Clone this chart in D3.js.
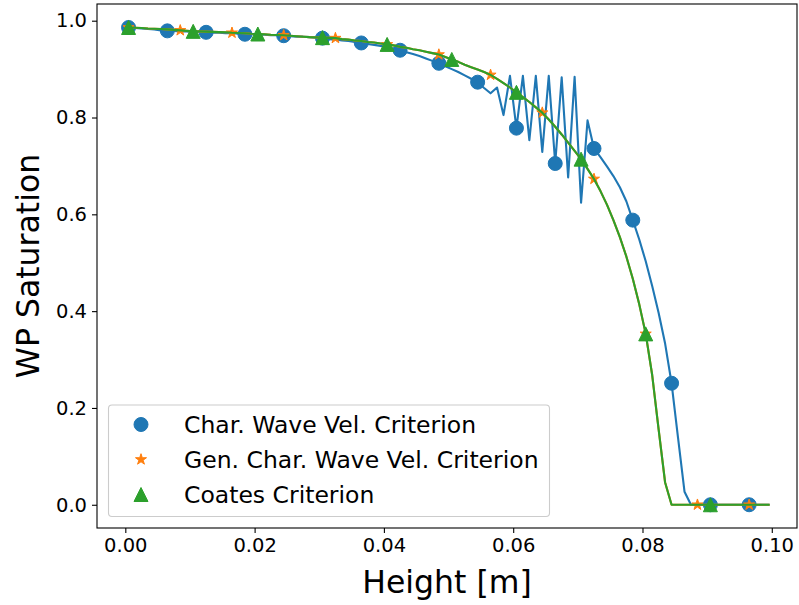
<!DOCTYPE html>
<html>
<head>
<meta charset="utf-8">
<script src="https://cdn.jsdelivr.net/npm/d3@7"></script>
<style>
  html, body { margin: 0; padding: 0; background: #fff; }
  svg { display: block; font-family: "DejaVu Sans", sans-serif; }
</style>
</head>
<body>
<svg id="chart" width="799" height="605"></svg>
<script>
// Cell-centre heights [m]: 100 cells of 1 mm
const heights = d3.range(100).map(i => +(0.0005 + 0.001 * i).toFixed(4));

// Wetting-phase saturation profile, characteristic wave velocity criterion
const charWaveSat = [
  0.986, 0.985, 0.984, 0.983, 0.982, 0.980, 0.979, 0.979, 0.978, 0.978,
  0.977, 0.977, 0.976, 0.975, 0.975, 0.974, 0.974, 0.973, 0.972, 0.972,
  0.971, 0.971, 0.970, 0.970, 0.969, 0.968, 0.967, 0.967, 0.966, 0.965,
  0.964, 0.962, 0.961, 0.959, 0.958, 0.956, 0.954, 0.952, 0.950, 0.948,
  0.945, 0.942, 0.939, 0.935, 0.931, 0.927, 0.922, 0.917, 0.912, 0.906,
  0.900, 0.894, 0.887, 0.880, 0.873, 0.861, 0.850, 0.862, 0.805, 0.886,
  0.778, 0.886, 0.753, 0.886, 0.729, 0.886, 0.705, 0.883, 0.676, 0.884,
  0.624, 0.794, 0.736, 0.718, 0.699, 0.679, 0.656, 0.627, 0.588, 0.548,
  0.503, 0.452, 0.396, 0.333, 0.251, 0.138, 0.027, 0.000, 0.000, 0.000,
  0.000, 0.000, 0.000, 0.000, 0.000, 0.000, 0.000, 0.000, 0.000, 0.000
];

// Saturation profile, Coates criterion
const coatesSat = [
  0.986, 0.9855, 0.985, 0.984, 0.9835, 0.983, 0.982, 0.981, 0.980, 0.979,
  0.978, 0.978, 0.9775, 0.977, 0.9765, 0.976, 0.975, 0.9745, 0.974, 0.973,
  0.9725, 0.972, 0.971, 0.9705, 0.970, 0.969, 0.968, 0.967, 0.966, 0.9655,
  0.965, 0.9645, 0.964, 0.962, 0.961, 0.959, 0.958, 0.956, 0.955, 0.953,
  0.951, 0.949, 0.946, 0.944, 0.941, 0.939, 0.936, 0.933, 0.930, 0.925,
  0.920, 0.915, 0.909, 0.904, 0.899, 0.894, 0.888, 0.880, 0.871, 0.862,
  0.852, 0.842, 0.832, 0.821, 0.810, 0.796, 0.781, 0.765, 0.748, 0.731,
  0.714, 0.694, 0.673, 0.648, 0.620, 0.588, 0.553, 0.513, 0.467, 0.414,
  0.353, 0.268, 0.155, 0.046, 0.000, 0.000, 0.000, 0.000, 0.000, 0.000,
  0.000, 0.000, 0.000, 0.000, 0.000, 0.000, 0.000, 0.000, 0.000, 0.000
];

// Saturation profile, generalised characteristic wave velocity criterion
// (coincides with the Coates profile at this resolution)
const genCharWaveSat = coatesSat.slice();

const xTicks = [0, 0.02, 0.04, 0.06, 0.08, 0.10];
const yTicks = [0, 0.2, 0.4, 0.6, 0.8, 1.0];

const series = [
  { name: "Char. Wave Vel. Criterion", values: charWaveSat, color: "#1f77b4", marker: "circle", every: 6 },
  { name: "Gen. Char. Wave Vel. Criterion", values: genCharWaveSat, color: "#ff7f0e", marker: "star", every: 8 },
  { name: "Coates Criterion", values: coatesSat, color: "#2ca02c", marker: "triangle", every: 10 }
];

const svg = d3.select("#chart");
const plot = { left: 97, right: 797, top: 4, bottom: 528 };

const x = d3.scaleLinear().domain([-0.00438, 0.1039]).range([plot.left, plot.right]);
const y = d3.scaleLinear().domain([-0.048, 1.0345]).range([plot.bottom, plot.top]);

// Marker shapes
function markerPath(kind) {
  if (kind === "circle") return d3.symbol().type(d3.symbolCircle).size(Math.PI * 7 * 7)();
  if (kind === "triangle") return "M0,-7L7,7L-7,7Z";
  // five-pointed star
  const R = 5.8, r = R * 0.381966;
  const pts = [];
  for (let k = 0; k < 10; k++) {
    const rad = k % 2 === 0 ? R : r;
    const a = -Math.PI / 2 + k * Math.PI / 5;
    pts.push([rad * Math.cos(a), rad * Math.sin(a)]);
  }
  return "M" + pts.map(p => p[0].toFixed(2) + "," + p[1].toFixed(2)).join("L") + "Z";
}

const line = d3.line().x((d, i) => x(heights[i])).y(d => y(d));

const layer = svg.append("g");
series.forEach(s => {
  layer.append("path")
    .attr("d", line(s.values))
    .attr("fill", "none")
    .attr("stroke", s.color)
    .attr("stroke-width", 2.1)
    .attr("stroke-linejoin", "round")
    .attr("stroke-linecap", "square");

  const pts = s.values.map((v, i) => [heights[i], v]).filter((d, i) => i % s.every === 0);
  layer.append("g").selectAll("path")
    .data(pts)
    .join("path")
    .attr("d", markerPath(s.marker))
    .attr("transform", d => `translate(${x(d[0])},${y(d[1])})`)
    .attr("fill", s.color)
    .attr("stroke", s.color)
    .attr("stroke-width", 1);
});

// Axes frame
svg.append("rect")
  .attr("x", plot.left).attr("y", plot.top)
  .attr("width", plot.right - plot.left).attr("height", plot.bottom - plot.top)
  .attr("fill", "none").attr("stroke", "#000").attr("stroke-width", 1.1);

const xAxis = svg.append("g")
  .attr("transform", `translate(0,${plot.bottom})`)
  .call(d3.axisBottom(x).tickValues(xTicks).tickFormat(d3.format(".2f")).tickSize(5).tickPadding(5));
const yAxis = svg.append("g")
  .attr("transform", `translate(${plot.left},0)`)
  .call(d3.axisLeft(y).tickValues(yTicks).tickFormat(d3.format(".1f")).tickSize(5).tickPadding(5));

[xAxis, yAxis].forEach(g => {
  g.select(".domain").remove();
  g.selectAll(".tick line").attr("stroke", "#000").attr("stroke-width", 1.1);
  g.selectAll(".tick text").attr("fill", "#000").style("font-size", "19.5px").style("font-family", "DejaVu Sans");
});

// Axis titles
svg.append("text")
  .attr("x", (plot.left + plot.right) / 2).attr("y", 593)
  .attr("text-anchor", "middle")
  .style("font-size", "31.5px")
  .text("Height [m]");

svg.append("text")
  .attr("transform", `translate(39,${(plot.top + plot.bottom) / 2}) rotate(-90)`)
  .attr("text-anchor", "middle")
  .style("font-size", "31.5px")
  .text("WP Saturation");

// Legend
const legend = svg.append("g");
legend.append("rect")
  .attr("x", 108.5).attr("y", 405).attr("width", 441).attr("height", 111.5)
  .attr("rx", 3.5).attr("ry", 3.5)
  .attr("fill", "#fff").attr("fill-opacity", 0.8)
  .attr("stroke", "#cccccc").attr("stroke-width", 1.1);

series.forEach((s, i) => {
  const cy = 424.5 + i * 35;
  legend.append("path")
    .attr("d", markerPath(s.marker))
    .attr("transform", `translate(141,${cy})`)
    .attr("fill", s.color).attr("stroke", s.color).attr("stroke-width", 1);
  legend.append("text")
    .attr("x", 184).attr("y", cy)
    .attr("dy", "0.36em")
    .style("font-size", "23.5px")
    .text(s.name);
});
</script>
</body>
</html>
